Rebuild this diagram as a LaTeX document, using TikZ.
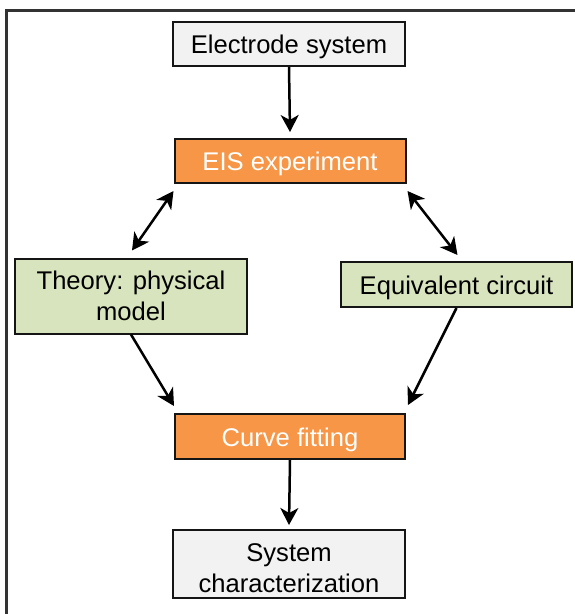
\documentclass[tikz,border=0pt]{standalone}
\usepackage{fontspec}
\setmainfont{Liberation Sans}
\usetikzlibrary{arrows.meta,calc}
\definecolor{boxgrey}{HTML}{F2F2F2}
\definecolor{boxorange}{HTML}{F79646}
\definecolor{boxgreen}{HTML}{D7E4BD}
\definecolor{framegrey}{HTML}{333333}
\definecolor{edgegrey}{HTML}{151515}
\newcommand{\lowtext}[2]{\raisebox{-#1}[\height][\depth]{#2}}
\tikzset{
  x=1pt, y=-1pt,
  box/.style={draw=edgegrey, line width=2pt, rectangle, inner sep=0pt, align=center,
    font=\fontsize{25.6}{31}\selectfont, text=black},
  greybox/.style={box, fill=boxgrey},
  orangebox/.style={box, fill=boxorange, text=white},
  greenbox/.style={box, fill=boxgreen},
  arr/.style={line width=2.5pt, -{Stealth[length=17pt,width=18pt,inset=5pt]}},
  darr/.style={line width=2.5pt, {Stealth[length=17pt,width=18pt,inset=5pt]}-{Stealth[length=17pt,width=18pt,inset=5pt]}}
}
\begin{document}
\begin{tikzpicture}
\useasboundingbox (0,0) rectangle (575,614);
\fill[white] (0,0) rectangle (575,614);
\draw[framegrey, line width=2.2pt] (6.5,614) -- (6.5,10.5) -- (575,10.5);

\node[greybox, minimum width=232pt, minimum height=44pt] (elec) at (289,44) {\lowtext{3pt}{Electrode system}};
\node[orangebox, minimum width=231pt, minimum height=44pt] (eis) at (290,161) {\lowtext{3pt}{EIS experiment}};
\node[greenbox, minimum width=232pt, minimum height=75pt] (theory) at (131,296) {Theory: physical\\model};
\node[greenbox, minimum width=231pt, minimum height=45pt] (equiv) at (456.5,284.5) {\lowtext{3pt}{Equivalent circuit}};
\node[orangebox, minimum width=230pt, minimum height=45pt] (curve) at (290,436.5) {\lowtext{3pt}{Curve fitting}};
\node[greybox, minimum width=232pt, minimum height=68pt] (sys) at (289,564) {\lowtext{7pt}{\begin{tabular}{@{}c@{}}System\\characterization\end{tabular}}};

\draw[arr] (elec.south) -- ($(eis.north)+(0,-6)$);
\draw[darr] ($(eis.south west)+(0,7)$) -- ($(theory.north)+(1,-7)$);
\draw[darr] ($(eis.south east)+(1,7)$) -- ($(equiv.north)+(1,-6)$);
\draw[arr] (theory.south) -- ($(curve.north west)+(0,-7)$);
\draw[arr] (equiv.south) -- ($(curve.north east)+(2,-8)$);
\draw[arr] (curve.south) -- ($(sys.north)+(0,-4)$);
\end{tikzpicture}
\end{document}
